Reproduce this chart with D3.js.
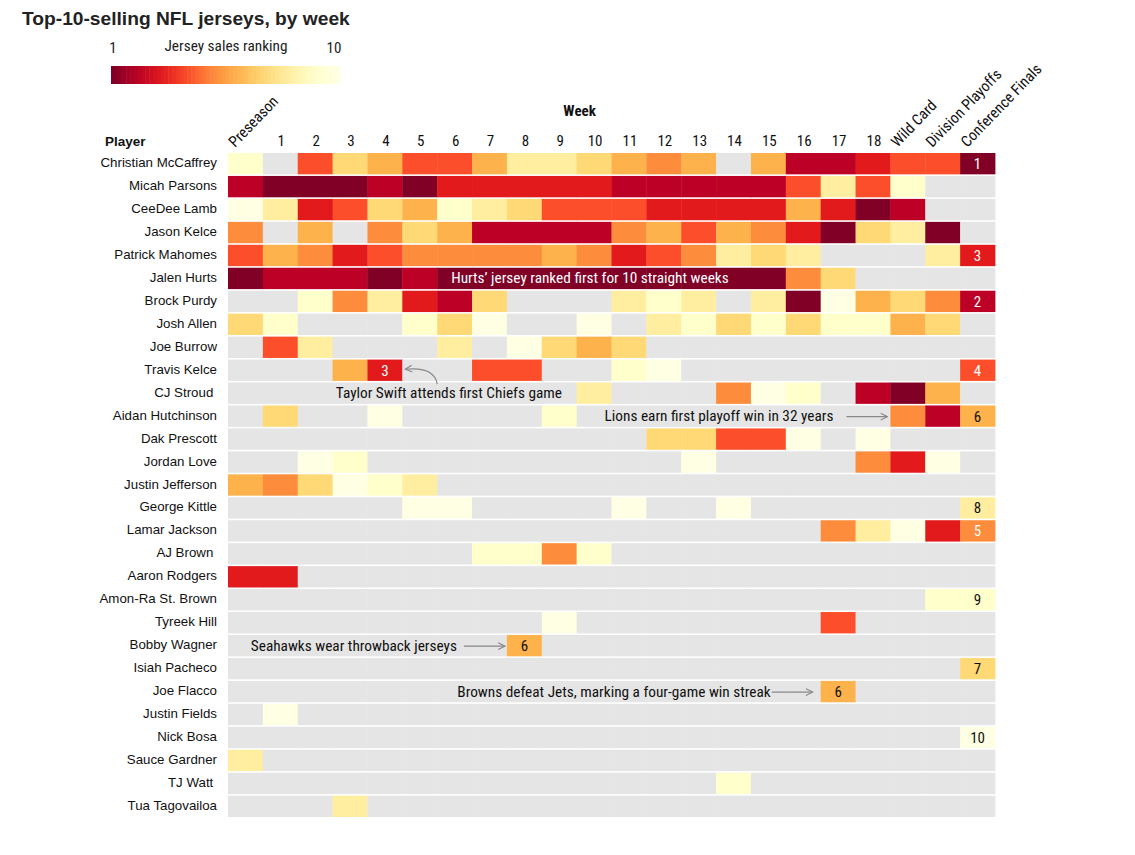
<!DOCTYPE html>
<html><head><meta charset="utf-8">
<script src="https://cdn.jsdelivr.net/npm/d3@7"></script>
<style>
body{margin:0;background:#fff;}
svg text{font-family:"Liberation Sans",Arial,sans-serif;}
svg text.cond{font-family:"Liberation Sans Narrow","Roboto Condensed","Arial Narrow",sans-serif;}
</style></head><body><svg id="c" width="1135" height="855"></svg>
<script>
// ---------------- DATA ----------------
const columns = ["Preseason","1","2","3","4","5","6","7","8","9","10","11","12","13","14","15","16","17","18","Wild Card","Division Playoffs","Conference Finals"];
const rotatedColumns = ["Preseason","Wild Card","Division Playoffs","Conference Finals"];
const players = ["Christian McCaffrey","Micah Parsons","CeeDee Lamb","Jason Kelce","Patrick Mahomes","Jalen Hurts","Brock Purdy","Josh Allen","Joe Burrow","Travis Kelce","CJ Stroud ","Aidan Hutchinson","Dak Prescott","Jordan Love","Justin Jefferson","George Kittle","Lamar Jackson","AJ Brown ","Aaron Rodgers","Amon-Ra St. Brown","Tyreek Hill","Bobby Wagner","Isiah Pacheco","Joe Flacco","Justin Fields","Nick Bosa","Sauce Gardner","TJ Watt ","Tua Tagovailoa"];
// rank per column (0 = not in the top 10)
const ranks = [
  [9,0,4,7,6,4,4,6,8,8,7,6,5,6,0,6,2,2,3,4,4,1],
  [2,1,1,1,2,1,3,3,3,3,3,2,2,2,2,2,4,8,4,9,0,0],
  [10,8,3,4,7,6,9,8,7,4,4,4,3,3,3,3,6,3,1,2,0,0],
  [5,0,6,0,5,7,6,2,2,2,2,5,6,4,6,5,3,1,7,8,1,0],
  [4,6,5,3,4,5,5,5,5,6,5,3,4,5,8,7,8,0,0,0,8,3],
  [1,2,2,2,1,2,1,1,1,1,1,1,1,1,1,1,5,7,0,0,0,0],
  [0,0,9,5,8,3,2,7,0,0,0,8,9,8,0,8,1,10,6,7,5,2],
  [7,9,0,0,0,9,7,10,0,0,10,0,8,9,7,9,7,9,9,6,7,0],
  [0,4,8,0,0,0,8,0,10,7,6,7,0,0,0,0,0,0,0,0,0,0],
  [0,0,0,6,3,0,0,4,4,0,0,9,10,0,0,0,0,0,0,0,0,4],
  [0,0,0,0,0,0,0,0,0,0,8,0,0,0,5,10,9,0,2,1,6,0],
  [0,7,0,0,10,0,0,0,0,9,0,0,0,0,0,0,0,0,0,5,2,6],
  [0,0,0,0,0,0,0,0,0,0,0,0,7,7,4,4,10,0,10,0,0,0],
  [0,0,10,9,0,0,0,0,0,0,0,0,0,10,0,0,0,0,5,3,10,0],
  [6,5,7,10,9,8,0,0,0,0,0,0,0,0,0,0,0,0,0,0,0,0],
  [0,0,0,0,0,10,10,0,0,0,0,10,0,0,10,0,0,0,0,0,0,8],
  [0,0,0,0,0,0,0,0,0,0,0,0,0,0,0,0,0,5,8,10,3,5],
  [0,0,0,0,0,0,0,9,9,5,9,0,0,0,0,0,0,0,0,0,0,0],
  [3,3,0,0,0,0,0,0,0,0,0,0,0,0,0,0,0,0,0,0,0,0],
  [0,0,0,0,0,0,0,0,0,0,0,0,0,0,0,0,0,0,0,0,9,9],
  [0,0,0,0,0,0,0,0,0,10,0,0,0,0,0,0,0,4,0,0,0,0],
  [0,0,0,0,0,0,0,0,6,0,0,0,0,0,0,0,0,0,0,0,0,0],
  [0,0,0,0,0,0,0,0,0,0,0,0,0,0,0,0,0,0,0,0,0,7],
  [0,0,0,0,0,0,0,0,0,0,0,0,0,0,0,0,0,6,0,0,0,0],
  [0,10,0,0,0,0,0,0,0,0,0,0,0,0,0,0,0,0,0,0,0,0],
  [0,0,0,0,0,0,0,0,0,0,0,0,0,0,0,0,0,0,0,0,0,10],
  [8,0,0,0,0,0,0,0,0,0,0,0,0,0,0,0,0,0,0,0,0,0],
  [0,0,0,0,0,0,0,0,0,0,0,0,0,0,9,0,0,0,0,0,0,0],
  [0,0,0,8,0,0,0,0,0,0,0,0,0,0,0,0,0,0,0,0,0,0]
];
// cells that show their rank as a number (besides the last column)
const labeledCells = [["Travis Kelce","4"],["Bobby Wagner","8"],["Joe Flacco","17"]];
const legendTicks = [1,10];
// annotations
const notes = [
  {text:"Hurts\u2019 jersey ranked first for 10 straight weeks", player:"Jalen Hurts", col:"6", kind:"inside"},
  {text:"Taylor Swift attends first Chiefs game", player:"CJ Stroud ", col:"4", kind:"curve", target:"Travis Kelce"},
  {text:"Lions earn first playoff win in 32 years", player:"Aidan Hutchinson", col:"Wild Card", kind:"arrow", gap:13, off:3},
  {text:"Seahawks wear throwback jerseys", player:"Bobby Wagner", col:"8", kind:"arrow", gap:7, off:2},
  {text:"Browns defeat Jets, marking a four-game win streak", player:"Joe Flacco", col:"17", kind:"arrow", gap:1, off:8}
];

// ---------------- STYLE ----------------
const palette = ["#800026","#bd0026","#e31a1c","#fc4e2a","#fd8d3c","#feb24c","#fed976","#ffeda0","#ffffcc","#ffffe3"];
const grey = "#e5e5e5";

const svg = d3.select("#c");
const x = d3.scaleBand().domain(columns).range([228, 995]).padding(0);
const y = d3.scaleBand().domain(players).range([153, 817]).paddingInner(0.07).paddingOuter(0);
const color = d3.scaleOrdinal().domain(d3.range(1, 11)).range(palette);

// title
svg.append("text").attr("x", 22).attr("y", 25).text("Top-10-selling NFL jerseys, by week")
  .style("font-weight", "bold").style("font-size", "19.2px").attr("fill", "#222");

// legend
const lg = d3.scaleLinear().domain([1, 10]).range([111, 340]);
const nSteps = 60;
const interp = d3.interpolateRgbBasis(palette);
svg.append("g").selectAll("rect").data(d3.range(nSteps)).join("rect")
  .attr("x", i => lg(1) + i * (lg(10) - lg(1)) / nSteps)
  .attr("width", (lg(10) - lg(1)) / nSteps + 0.5)
  .attr("y", 66).attr("height", 18)
  .attr("fill", i => interp(i / (nSteps - 1)));
svg.append("g").selectAll("text").data(legendTicks).join("text").attr("class", "cond")
  .attr("x", d => lg(d) + (d === 1 ? 2 : -6)).attr("y", 53).attr("text-anchor", "middle")
  .style("font-size", "15px").attr("fill", "#222").text(d => d);
svg.append("text").attr("class", "cond").attr("x", 226).attr("y", 51).attr("text-anchor", "middle")
  .style("font-size", "15.3px").attr("fill", "#222").text("Jersey sales ranking");

// headers
svg.append("text").attr("class", "cond").attr("x", (x("9") + x("10") + x.bandwidth()) / 2 + 3).attr("y", 116)
  .attr("text-anchor", "middle").style("font-weight", "bold").style("font-size", "15px").attr("fill", "#111").text("Week");
svg.append("text").attr("x", 105).attr("y", 146).style("font-weight", "bold").style("font-size", "13.5px").attr("fill", "#111").text("Player");

svg.append("g").selectAll("text").data(columns.filter(c => !rotatedColumns.includes(c))).join("text")
  .attr("class", "cond").attr("x", c => x(c) + x.bandwidth() / 2 + 1).attr("y", 146)
  .attr("text-anchor", "middle").style("font-size", "15px").attr("fill", "#111").text(c => c);
svg.append("g").selectAll("text").data(rotatedColumns).join("text")
  .attr("class", "cond")
  .attr("transform", c => `translate(${x(c) + 7},${148}) rotate(-46)`)
  .style("font-size", "15.3px").attr("fill", "#111").text(c => c);

// row labels
svg.append("g").selectAll("text").data(players).join("text")
  .attr("x", 217).attr("y", p => y(p) + y.bandwidth() / 2 + 3.5).attr("text-anchor", "end")
  .style("font-size", "13.3px").style("white-space", "pre").attr("fill", "#111").text(p => p);

// cells
const cells = [];
players.forEach((p, i) => columns.forEach((c, j) => cells.push({p, c, r: ranks[i][j]})));
svg.append("g").selectAll("rect").data(cells).join("rect")
  .attr("x", d => x(d.c)).attr("y", d => y(d.p))
  .attr("width", x.bandwidth() + 0.4).attr("height", y.bandwidth())
  .attr("fill", d => d.r ? color(d.r) : grey);

// cell numbers
const lastCol = columns[columns.length - 1];
const labelData = cells.filter(d => d.r && (d.c === lastCol || labeledCells.some(l => l[0] === d.p && l[1] === d.c)));
svg.append("g").selectAll("text").data(labelData).join("text")
  .attr("class", "cond")
  .attr("x", d => x(d.c) + x.bandwidth() / 2).attr("y", d => y(d.p) + y.bandwidth() / 2 + 5.5)
  .attr("text-anchor", "middle").style("font-size", "15px")
  .attr("fill", d => d.r <= 5 ? "#fff" : "#111").text(d => d.r);

// annotations
const defs = svg.append("defs");
defs.append("marker").attr("id", "ah").attr("viewBox", "0 0 10 10").attr("refX", 9).attr("refY", 5)
  .attr("markerWidth", 7).attr("markerHeight", 7).attr("orient", "auto-start-reverse")
  .append("path").attr("d", "M1,1 L9,5 L1,9").attr("fill", "none").attr("stroke", "#888").attr("stroke-width", 1.3);

notes.forEach(n => {
  const cy = y(n.player) + y.bandwidth() / 2;
  if (n.kind === "inside") {
    svg.append("text").attr("class", "cond").attr("x", x(n.col) + 14).attr("y", cy + 5)
      .style("font-size", "15.3px").attr("fill", "#fff").text(n.text);
  } else if (n.kind === "curve") {
    const tx = x(n.col) + x.bandwidth() / 2 + 64;
    svg.append("text").attr("class", "cond").attr("x", tx).attr("y", cy + 5).attr("text-anchor", "middle")
      .style("font-size", "15.3px").attr("fill", "#111").text(n.text);
    const ty = y(n.target) + y.bandwidth() / 2;
    const ex = x(n.col) + x.bandwidth() + 2;
    svg.append("path").attr("d", `M${ex + 33},${cy - 9} Q${ex + 30},${ty - 4} ${ex + 1},${ty - 1}`)
      .attr("fill", "none").attr("stroke", "#888").attr("stroke-width", 1.2).attr("marker-end", "url(#ah)");
  } else {
    const ax2 = x(n.col) - n.off;
    const ax1 = ax2 - 41;
    svg.append("line").attr("x1", ax1).attr("x2", ax2).attr("y1", cy + 0.5).attr("y2", cy + 0.5)
      .attr("stroke", "#888").attr("stroke-width", 1.2).attr("marker-end", "url(#ah)");
    svg.append("text").attr("class", "cond").attr("x", ax1 - n.gap).attr("y", cy + 5).attr("text-anchor", "end")
      .style("font-size", "15.3px").attr("fill", "#111").text(n.text);
  }
});
</script></body></html>
